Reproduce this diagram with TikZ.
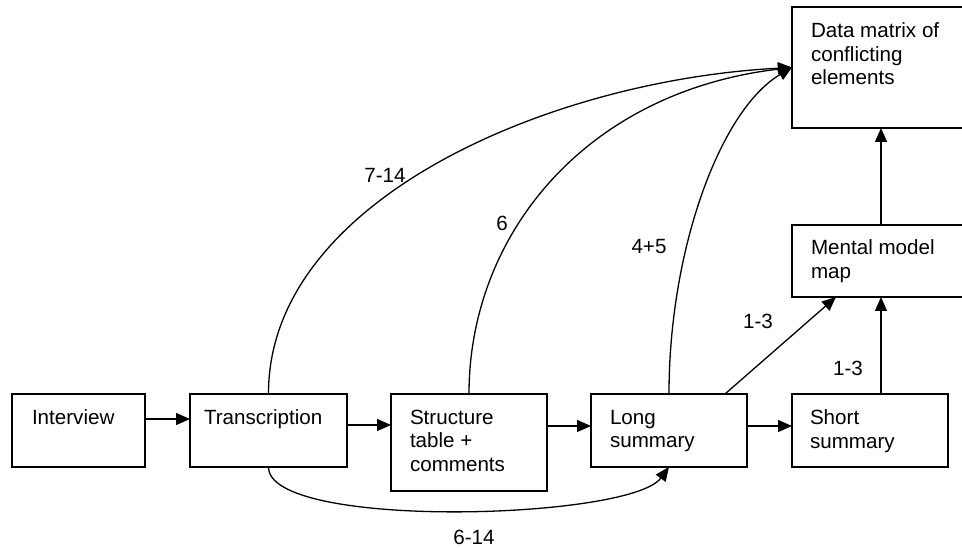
\documentclass[tikz,border=0pt]{standalone}
\usepackage{fontspec}
\setmainfont{Liberation Sans}
\usetikzlibrary{arrows.meta,calc}
\begin{document}
\begin{tikzpicture}[x=1pt,y=-1pt,
  box/.style={draw,line width=1.3pt,inner sep=0pt,outer sep=0pt},
  txt/.style={anchor=north west,inner sep=0pt,outer sep=0pt,align=left,font=\fontsize{20.6}{23.5}\selectfont},
  lbl/.style={inner sep=0pt,font=\fontsize{20.6}{23.5}\selectfont},
  arr/.style={line width=1.3pt,-{Triangle[length=14pt,width=12pt]}},
  ln/.style={line width=1.3pt}]
\useasboundingbox (0,0) rectangle (962,548);
\clip (0,0) rectangle (962,548);
\fill[white] (0,0) rectangle (962,548);
% boxes
\node[box,minimum width=133pt,minimum height=73pt] (interview) at (78.5,430.5) {};
\node[box,minimum width=157pt,minimum height=73pt] (trans) at (268.5,430.5) {};
\node[box,minimum width=156pt,minimum height=97pt] (struct) at (469,442.5) {};
\node[box,minimum width=156pt,minimum height=73pt] (long) at (669,430.5) {};
\node[box,minimum width=156pt,minimum height=73pt] (short) at (870,430.5) {};
\node[box,minimum width=178pt,minimum height=72pt] (mental) at (881,261) {};
\node[box,minimum width=178pt,minimum height=121pt] (data) at (881,67.5) {};
% texts
\node[txt] (tinterview) at ($(interview.north west)+(20,16)$) {Interview};
\node[txt] (ttrans) at ($(trans.north west)+(14,16)$) {Transcription};
\node[txt] (tstruct) at ($(struct.north west)+(19,16)$) {Structure\\table +\\comments};
\node[txt] (tlong) at ($(long.north west)+(19,16)$) {Long\\summary};
\node[txt] (tshort) at ($(short.north west)+(18,16)$) {Short\\summary};
\node[txt] (tmental) at ($(mental.north west)+(19,15)$) {Mental model\\map};
\node[txt] (tdata) at ($(data.north west)+(19,16)$) {Data matrix of\\conflicting\\elements};
% straight arrows
\draw[arr] ($(interview.east)+(0,-11.5)$) -- ($(trans.west)+(0,-11.5)$);
\draw[arr] ($(trans.east)+(0,-5.5)$) -- ($(struct.west)+(0,-17.5)$);
\draw[arr] ($(struct.east)+(0,-16.5)$) -- ($(long.west)+(0,-4.5)$);
\draw[arr] ($(long.east)+(0,-4.5)$) -- ($(short.west)+(0,-4.5)$);
\draw[arr] (mental.south |- short.north) -- (mental.south);
\draw[arr] (mental.north) -- (data.south);
\draw[arr] ($(long.north)+(56,0)$) -- ($(mental.south)+(-45,0)$);
% curved arrows
\draw[arr] (trans.north) .. controls (268,200) and (550,80) .. (data.west);
\draw[arr] (struct.north) .. controls (469,235) and (585,92) .. (data.west);
\draw[arr] (long.north) .. controls (669,250) and (720,110) .. (data.west);
\draw[arr] (trans.south) .. controls (268,530) and (630,520) .. (long.south);
% labels
\node[lbl] (l714) at (385,175) {7-14};
\node[lbl] (l6) at (502,223) {6};
\node[lbl] (l45) at (649,247) {4+5};
\node[lbl] (l13a) at (758,321) {1-3};
\node[lbl] (l13b) at (848,368) {1-3};
\node[lbl] (l614) at (474,537) {6-14};
\end{tikzpicture}
\end{document}
